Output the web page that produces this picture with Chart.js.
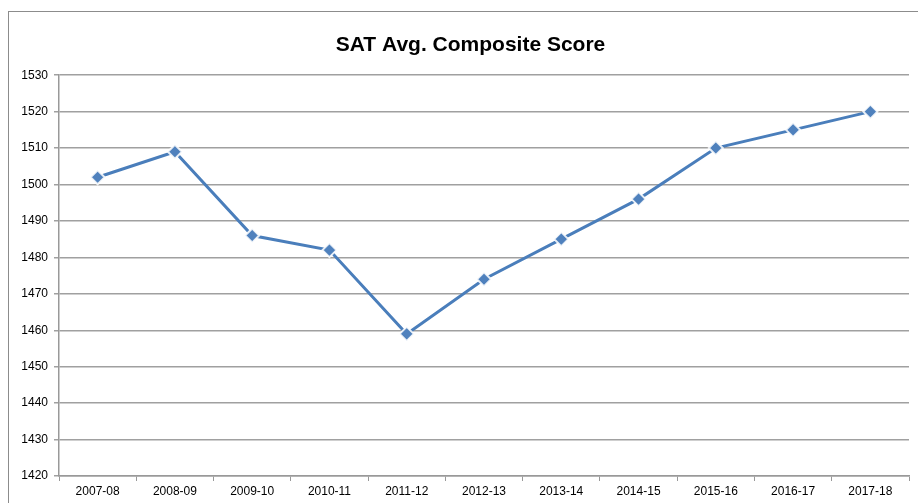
<!DOCTYPE html>
<html>
<head>
<meta charset="utf-8">
<script src="https://cdn.jsdelivr.net/npm/chart.js@4"></script>
<style>
  html, body { margin: 0; padding: 0; background: #fff; }
  #wrap { position: relative; width: 918px; height: 503px; }
</style>
</head>
<body>
<div id="wrap"><canvas id="myChart" width="918" height="503"></canvas></div>
<script>
const years = ['2007-08', '2008-09', '2009-10', '2010-11', '2011-12', '2012-13',
               '2013-14', '2014-15', '2015-16', '2016-17', '2017-18'];
const scores = [1502, 1509, 1486, 1482, 1459, 1474, 1485, 1496, 1510, 1515, 1520];
const yMin = 1420, yMax = 1530, yStep = 10;

// outer frame of the chart object, cut off at right and bottom like the original
const framePlugin = {
  id: 'frame',
  beforeDraw(chart) {
    const ctx = chart.ctx;
    ctx.save();
    ctx.strokeStyle = '#8c8c8c';
    ctx.lineWidth = 1;
    ctx.strokeRect(8.5, 11.5, 1000, 1000);
    ctx.restore();
  },
  // the original's title sits a bit right of the canvas centre
  afterLayout(chart) {
    if (chart.titleBlock) chart.titleBlock.left += 28;
  }
};

const data = {
  labels: years,
  datasets: [{
    label: 'SAT Avg. Composite Score',
    data: scores,
    borderColor: '#4a7ebb',
    borderWidth: 3,
    tension: 0,
    pointStyle: 'rectRot',
    pointRadius: 7,
    pointHoverRadius: 7,
    pointBackgroundColor: '#4f81bd',
    pointBorderColor: 'rgba(255,255,255,0.85)',
    pointBorderWidth: 2
  }]
};

const config = {
  type: 'line',
  data: data,
  plugins: [framePlugin],
  options: {
    responsive: false,
    animation: false,
    layout: { padding: { left: 0, right: 5, top: 0, bottom: 0 } },
    plugins: {
      legend: { display: false },
      tooltip: { enabled: false },
      title: {
        display: true,
        text: 'SAT Avg. Composite Score',
        color: '#000',
        font: { family: 'Liberation Sans', size: 21, weight: 'bold' },
        padding: { top: 33, bottom: 17 }
      }
    },
    scales: {
      x: {
        offset: true,
        grid: { offset: true, drawOnChartArea: false, drawTicks: true, tickLength: 5, color: '#999', lineWidth: 1 },
        border: { color: '#999', width: 1.5 },
        ticks: { color: '#000', font: { family: 'Liberation Sans', size: 12 }, padding: 3, maxRotation: 0 },
        afterFit(scale) { scale.height = 27; }
      },
      y: {
        min: yMin,
        max: yMax,
        grid: { color: '#a0a0a0', lineWidth: 1.5, tickLength: 5 },
        border: { color: '#999', width: 1.5 },
        ticks: {
          stepSize: yStep, color: '#000', font: { family: 'Liberation Sans', size: 12 }, padding: 6,
          callback: (v) => String(v)
        },
        afterFit(scale) { scale.width = 59; }
      }
    }
  }
};

const ctx = document.getElementById('myChart');
const myChart = new Chart(ctx, config);
</script>
</body>
</html>
